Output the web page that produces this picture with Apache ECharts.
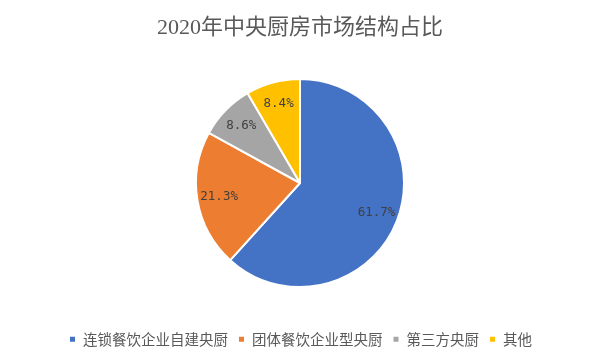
<!DOCTYPE html>
<html>
<head>
<meta charset="utf-8">
<script src="https://cdn.jsdelivr.net/npm/echarts@6/dist/echarts.min.js"></script>
<style>html,body{margin:0;padding:0;background:#fff}#c{width:600px;height:360px}</style>
</head>
<body>
<div id="c"></div>
<script>
const titleText = '2020年中央厨房市场结构占比';
const categories = ['连锁餐饮企业自建央厨', '团体餐饮企业型央厨', '第三方央厨', '其他'];
const values = [61.7, 21.3, 8.6, 8.4];
const colors = ['#4472C4', '#ED7D31', '#A5A5A5', '#FFC000'];

const chart = echarts.init(document.getElementById('c'), null, {renderer: 'canvas'});
const pieData = categories.map((n, i) => ({name: n, value: values[i], itemStyle: {color: colors[i]}}));
const labelData = categories.map((n, i) => ({name: n, value: values[i]}));

chart.setOption({
  animation: false,
  backgroundColor: '#fff',
  title: {
    text: titleText,
    left: 'center',
    top: 12,
    textStyle: {fontFamily: '"Liberation Serif", "Noto Sans CJK SC", serif', fontSize: 22, fontWeight: 'normal', color: '#595959'}
  },
  legend: {
    data: categories,
    left: 'center',
    top: 327,
    itemWidth: 7,
    itemHeight: 7,
    itemGap: 9,
    icon: 'rect',
    textStyle: {fontFamily: '"Noto Sans CJK SC", sans-serif', fontSize: 14.5, color: '#595959', padding: [0, 0, 0, 2]}
  },
  series: [
    {
      type: 'pie',
      center: [300, 183],
      radius: 104,
      startAngle: 90,
      clockwise: true,
      silent: true,
      label: {show: false},
      labelLine: {show: false},
      itemStyle: {borderColor: '#fff', borderWidth: 2},
      emphasis: {disabled: true},
      data: pieData
    },
    {
      type: 'pie',
      center: [300, 183],
      radius: 158,
      startAngle: 90,
      clockwise: true,
      silent: true,
      itemStyle: {color: 'rgba(0,0,0,0)', borderWidth: 0},
      emphasis: {disabled: true},
      labelLine: {show: false},
      label: {
        show: true,
        position: 'inside',
        formatter: p => p.value.toFixed(1) + '%',
        fontFamily: '"DejaVu Sans Mono", monospace',
        fontSize: 12.5,
        color: '#404040'
      },
      data: labelData
    }
  ]
});
</script>
</body>
</html>
